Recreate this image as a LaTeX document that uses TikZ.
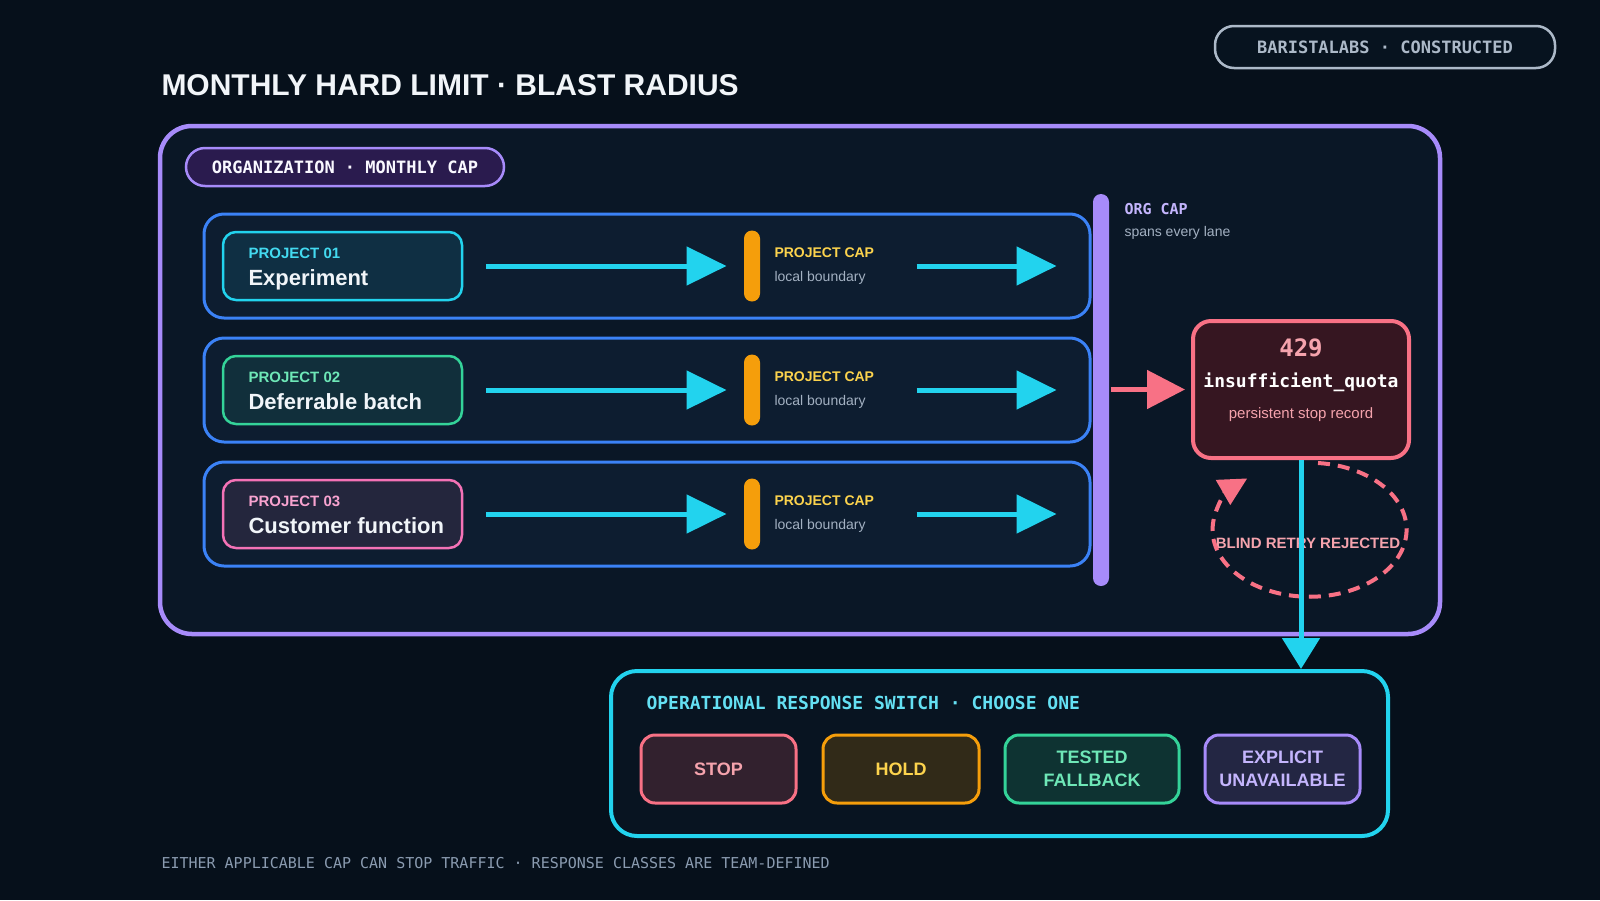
\documentclass[tikz,border=0pt]{standalone}
\usepackage{fontspec}
\setmainfont{Liberation Sans}
\setmonofont{DejaVu Sans Mono}
\usetikzlibrary{arrows.meta, positioning, calc}
\definecolor{cbg}{HTML}{06101B}
\definecolor{corgfill}{HTML}{0A1726}
\definecolor{clanefill}{HTML}{0D1D30}
\definecolor{cblue}{HTML}{3B82F6}
\definecolor{ccyan}{HTML}{22D3EE}
\definecolor{camber}{HTML}{F59E0B}
\definecolor{cyellow}{HTML}{FCD34D}
\definecolor{cpurple}{HTML}{A78BFA}
\definecolor{clav}{HTML}{C4B5FD}
\definecolor{ccoral}{HTML}{F87185}
\definecolor{crose}{HTML}{F5A3AD}
\definecolor{cmaroon}{HTML}{361621}
\definecolor{cplum}{HTML}{2A1B4E}
\definecolor{cpink}{HTML}{F472B6}
\definecolor{cgreen}{HTML}{34D399}
\definecolor{cmint}{HTML}{6EE7B7}
\definecolor{cwhite}{HTML}{F1F5F9}
\definecolor{cgrey}{HTML}{A3B1C2}
\definecolor{cfoot}{HTML}{8A9BB0}
\tikzset{
  every picture/.style={line width=3pt},
  txt/.style={anchor=base west, inner sep=0pt},
  lane/.style={draw=cblue, fill=clanefill, rounded corners=20pt, minimum width=886pt, minimum height=104pt},
  proj/.style={draw=#1, fill=#1!10!clanefill, line width=2.5pt, rounded corners=13pt, minimum width=239pt, minimum height=68pt},
  bar/.style={fill=#1, rounded corners=8pt, minimum width=16pt, inner sep=0pt},
  pill/.style={draw=#1, line width=2.5pt, rounded corners=19pt, inner sep=0pt},
  choice/.style={draw=#1, fill=#1!18!cbg, line width=3pt, rounded corners=14pt, minimum height=68pt, align=center, font=\bfseries\fontsize{18}{22.5}\selectfont},
  flow/.style={draw=ccyan, line width=5pt, -{Triangle[length=40pt, width=38pt]}},
  hit/.style={draw=ccoral, line width=5pt, -{Triangle[length=38pt, width=38pt]}},
  retry/.style={draw=ccoral, line width=4pt, dash pattern=on 12pt off 8pt, -{Triangle[length=28pt, width=28pt]}},
}

\begin{document}
\begin{tikzpicture}[x=1pt, y=-1pt]
  \fill[cbg] (0,0) rectangle (1600,900);
  \useasboundingbox (0,0) rectangle (1600,900);
  % heading and badge
  \node[txt, text=cwhite, font=\bfseries\fontsize{30}{36}\selectfont] (title) at (160,95) {MONTHLY HARD LIMIT · BLAST RADIUS};
  \node[pill=cgrey!90!white, fill=cbg!80!clanefill, text=cgrey!90!white, minimum width=340pt, minimum height=42pt, font=\ttfamily\bfseries\fontsize{17}{20}\selectfont] (badge) at (1385,47) {BARISTALABS · CONSTRUCTED};
  % organization frame
  \node[draw=cpurple, line width=4.5pt, fill=corgfill, rounded corners=32pt, minimum width=1280pt, minimum height=508pt] (org) at (800,380) {};
  \node[pill=cpurple, fill=cplum, text=white!90!clav, minimum width=318pt, minimum height=38pt, font=\ttfamily\bfseries\fontsize{17}{20}\selectfont] (orgtag) at (345,167) {ORGANIZATION · MONTHLY CAP};
  % three project lanes
  \foreach \i/\y/\c/\lc/\name in {1/266/ccyan/ccyan!85!white/Experiment, 2/390/cgreen/cmint/Deferrable batch, 3/514/cpink/cpink!65!white/Customer function} {
    \node[lane] (lane\i) at (647,\y) {};
    \node[proj=\c] (proj\i) at (342.5,\y) {};
    \node[txt, text=\lc, font=\bfseries\fontsize{15}{18}\selectfont] (ptag\i) at (247,\y-8) {PROJECT 0\i};
    \node[txt, text=cwhite, font=\bfseries\fontsize{22}{26}\selectfont] (pname\i) at (247,\y+19) {\name};
    \node[bar=camber, minimum height=71pt] (pcap\i) at (752,\y) {};
    \node[txt, text=cyellow, font=\bfseries\fontsize{14}{17}\selectfont] (ctag\i) at (773,\y-9) {PROJECT CAP};
    \node[txt, text=cgrey, font=\fontsize{14}{17}\selectfont] (cnote\i) at (773,\y+15) {local boundary};
    \draw[flow] ([xshift=23pt]proj\i.east) -- ([xshift=-16pt]pcap\i.west);
    \draw[flow] ([xshift=-175pt]lane\i.east) -- ([xshift=-35pt]lane\i.east);
  }
  % org cap across all lanes
  \node[bar=cpurple, minimum height=392pt] (orgcap) at (1101,390) {};
  \node[txt, text=clav, font=\ttfamily\bfseries\fontsize{15}{18}\selectfont] (orgtitle) at (1123,214) {ORG CAP};
  \node[txt, text=cgrey, font=\fontsize{14}{17}\selectfont] (orgnote) at (1123,236) {spans every lane};
  % stop record
  \node[draw=ccoral, line width=4pt, fill=cmaroon, rounded corners=18pt, minimum width=216pt, minimum height=137pt] (quota) at (1301,389.5) {};
  \node[text=crose, font=\ttfamily\bfseries\fontsize{24}{28}\selectfont] (code) at (1301,348) {429};
  \node[text=white, font=\ttfamily\bfseries\fontsize{18}{22}\selectfont] (err) at (1301,382) {insufficient\_quota};
  \node[text=crose, font=\fontsize{15}{18}\selectfont] (errnote) at (1301,415) {persistent stop record};
  \draw[hit] (orgcap.east |- quota.west) -- ([xshift=-6pt]quota.west);
  % rejected retry loop
  \node[text=crose, font=\bfseries\fontsize{15}{18}\selectfont] (retrytxt) at (1308,543) {BLIND RETRY REJECTED};
  \coordinate (loopin) at (1318,463);
  \draw[retry] (loopin) arc[start angle=85, end angle=-230, x radius=97pt, y radius=67pt];
  % response switch
  \node[draw=ccyan, line width=4pt, fill=cbg!70!clanefill, rounded corners=26pt, minimum width=777pt, minimum height=165pt] (resp) at (999.5,753.5) {};
  \draw[flow, -{Triangle[length=31pt, width=37pt]}] (quota.south) -- (quota.south |- resp.north);
  \node[anchor=west, inner sep=0pt, text=ccyan!70!white, font=\ttfamily\bfseries\fontsize{18}{22}\selectfont] (resptitle) at (645,703) {OPERATIONAL RESPONSE SWITCH · CHOOSE ONE};
  \foreach \n/\x/\w/\c/\tc/\t in {stop/718.5/155/ccoral/crose/STOP, hold/901/156/camber/cyellow/HOLD, fallback/1092/174/cgreen/cmint/{TESTED\\FALLBACK}, unavail/1282.5/155/cpurple/clav/{EXPLICIT\\UNAVAILABLE}}
    \node[choice=\c, text=\tc, minimum width=\w pt] (\n) at (\x,769) {\t};
  % footer
  \node[anchor=west, inner sep=0pt, text=cfoot, font=\ttfamily\fontsize{15}{18}\selectfont] (foot) at (160,863) {EITHER APPLICABLE CAP CAN STOP TRAFFIC · RESPONSE CLASSES ARE TEAM-DEFINED};
\end{tikzpicture}
\end{document}
